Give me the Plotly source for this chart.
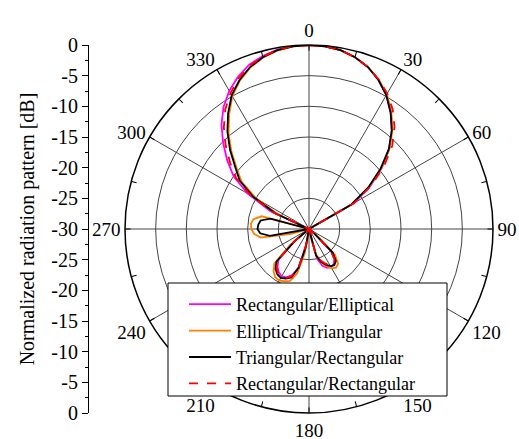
import plotly.graph_objects as go

# ---------------- data ----------------
theta_deg = list(range(0, 360, 5)) + [360]

# Normalized radiation pattern [dB], angles 0..355 step 5
r_rect_ellip = [
    0, -0.1, -0.4, -1.0, -1.9, -3.2, -4.8, -6.8, -9.0, -11.5, -14.5, -17.8,      # 0-55
    -21.5, -30, -30, -30, -30, -30, -30, -30, -30, -30, -30, -30,               # 60-115
    -30, -30, -29, -25, -23.5, -23.0, -22.8, -23.0, -23.6, -25.0, -30, -30,     # 120-175
    -30, -30, -27.5, -23.5, -22.0, -21.3, -21.1, -21.4, -22.0, -23.0, -27, -30, # 180-235
    -30, -30, -30, -30, -30, -30, -30, -30, -30, -30, -30, -23.0,               # 240-295
    -18.5, -15.0, -12.6, -10.2, -7.8, -5.7, -4.0, -2.6, -1.5, -0.8, -0.3, -0.05 # 300-355
]
r_ellip_tri = [
    0, -0.1, -0.4, -1.0, -1.9, -3.1, -4.6, -6.6, -8.8, -11.4, -14.6, -18.0,
    -22.0, -30, -30, -30, -30, -30, -30, -30, -30, -30, -30, -30,
    -30, -30, -28, -24.0, -22.6, -22.3, -22.6, -23.3, -24.3, -25.8, -29, -30,
    -30, -30, -26, -22.5, -21.0, -20.6, -20.3, -20.4, -21.0, -22.0, -26, -30,
    -30, -30, -30, -27, -22.0, -21.0, -20.6, -20.5, -20.8, -22.0, -30, -24.5,
    -20.0, -16.6, -14.6, -12.1, -9.6, -7.3, -5.0, -3.3, -2.0, -1.05, -0.45, -0.1
]
r_tri_rect = [
    0, -0.1, -0.4, -1.0, -1.9, -3.2, -4.8, -6.8, -9.0, -11.6, -14.8, -18.2,
    -22.0, -30, -30, -30, -30, -30, -30, -30, -30, -30, -30, -30,
    -30, -30, -29, -24.5, -23.2, -22.8, -23.0, -23.6, -24.3, -25.5, -30, -30,
    -30, -30, -27, -23.5, -21.6, -21.1, -20.8, -21.0, -21.5, -22.5, -27, -30,
    -30, -30, -30, -30, -23.5, -22.0, -21.6, -21.7, -22.0, -23.5, -30, -24.0,
    -19.5, -16.2, -14.3, -11.8, -9.3, -7.0, -4.8, -3.2, -1.9, -1.0, -0.4, -0.1
]
r_rect_rect = [
    0, -0.1, -0.4, -1.0, -1.9, -3.1, -4.5, -6.2, -8.3, -10.8, -14.0, -17.5,
    -21.5, -30, -30, -30, -30, -30, -30, -30, -30, -30, -30, -30,
    -30, -30, -29, -25.0, -23.5, -23.0, -23.2, -23.8, -24.6, -26.0, -30, -30,
    -30, -30, -27.5, -23.5, -21.8, -21.2, -21.0, -21.2, -21.8, -22.8, -27, -30,
    -30, -30, -30, -30, -30, -30, -30, -30, -30, -30, -30, -23.5,
    -19.0, -15.5, -13.2, -10.8, -8.4, -6.2, -4.4, -2.9, -1.7, -0.9, -0.35, -0.1
]

series_names = ["Rectangular/Elliptical", "Elliptical/Triangular",
                "Triangular/Rectangular", "Rectangular/Rectangular"]
series_values = [r_rect_ellip, r_ellip_tri, r_tri_rect, r_rect_rect]
series_colors = ["#FF00FF", "#FF8000", "#000000", "#FF0000"]
series_dash = ["solid", "solid", "solid", "dash"]

angle_ticks = list(range(0, 360, 30))
all_angle_ticks = list(range(0, 360, 15))
db_min, db_max, db_step = -30, 0, 5
left_tickvals = list(range(-30, 31, 5))
left_ticktext = ["0", "-5", "-10", "-15", "-20", "-25", "-30",
                 "-25", "-20", "-15", "-10", "-5", "0"]

FONT = "Liberation Serif"
W, H = 519, 439
cx, cy, R = 309, 229, 184

dom_x = [(cx - R) / W, (cx + R) / W]
dom_y = [1 - (cy + R) / H, 1 - (cy - R) / H]
GRID = "#444444"

fig = go.Figure()
for name, vals, col, dash in zip(series_names, series_values, series_colors, series_dash):
    fig.add_trace(go.Scatterpolar(
        r=vals + [vals[0]], theta=theta_deg, mode="lines", name=name,
        line=dict(color=col, width=1.8, dash=dash),
        subplot="polar"))

# overlay polar for ticks on the outer circle
fig.add_trace(go.Scatterpolar(r=[None], theta=[None], subplot="polar2",
                              showlegend=False, hoverinfo="skip"))
# cartesian helper for the left dB axis
fig.add_trace(go.Scatter(x=[None], y=[None], showlegend=False, hoverinfo="skip"))

# legend frame (drawn above the plot, below the legend entries)
fig.add_shape(type="rect", xref="paper", yref="paper",
              x0=168 / W, x1=447 / W, y0=1 - 396 / H, y1=1 - 283 / H,
              fillcolor="white", line=dict(color="black", width=1), layer="above")

fig.update_layout(
    template="none",
    width=W, height=H, margin=dict(l=0, r=0, t=0, b=0, autoexpand=False),
    paper_bgcolor="white", plot_bgcolor="rgba(0,0,0,0)",
    font=dict(family=FONT, size=20, color="black"),
    showlegend=True,
    legend=dict(x=184 / W, y=1 - 286 / H, xanchor="left", yanchor="top",
                bgcolor="rgba(0,0,0,0)", borderwidth=0,
                itemwidth=42,
                font=dict(family=FONT, size=18, color="black")),
    polar=dict(
        domain=dict(x=dom_x, y=dom_y), bgcolor="rgba(0,0,0,0)",
        angularaxis=dict(rotation=90, direction="clockwise",
                         tickmode="array", tickvals=angle_ticks,
                         ticktext=[str(a) for a in angle_ticks],
                         ticks="",
                         showline=True, linecolor="black", linewidth=1.5,
                         showgrid=True, gridcolor=GRID, gridwidth=1,
                         tickfont=dict(family=FONT, size=19, color="black")),
        radialaxis=dict(range=[db_min, db_max], dtick=db_step, tick0=0,
                        showticklabels=False, ticks="", showline=False,
                        showgrid=True, gridcolor=GRID, gridwidth=1),
    ),
    polar2=dict(
        domain=dict(x=dom_x, y=dom_y), bgcolor="rgba(0,0,0,0)",
        angularaxis=dict(rotation=90, direction="clockwise",
                         tickmode="array", tickvals=all_angle_ticks,
                         ticks="inside", ticklen=5, tickcolor="black", tickwidth=1.2,
                         showticklabels=False, showline=False, showgrid=False),
        radialaxis=dict(range=[db_min, db_max], visible=False),
    ),
    xaxis=dict(domain=[88 / W, 100 / W], visible=False, range=[0, 1],
               automargin=False),
    yaxis=dict(domain=dom_y, range=[-30, 30], anchor="free", position=88 / W,
               automargin=False,
               tickmode="array", tickvals=left_tickvals, ticktext=left_ticktext,
               ticks="outside", ticklen=6, tickwidth=1, tickcolor="black",
               minor=dict(dtick=2.5, tick0=0, ticks="outside", ticklen=3,
                          tickcolor="black", showgrid=False),
               showline=True, linecolor="black", linewidth=1, showgrid=False,
               zeroline=False, tickfont=dict(family=FONT, size=20, color="black"),
               title=dict(text="Normalized radiation pattern [dB]",
                          font=dict(family=FONT, size=20, color="black"),
                          standoff=10)),
)

fig.write_html("out.html")
